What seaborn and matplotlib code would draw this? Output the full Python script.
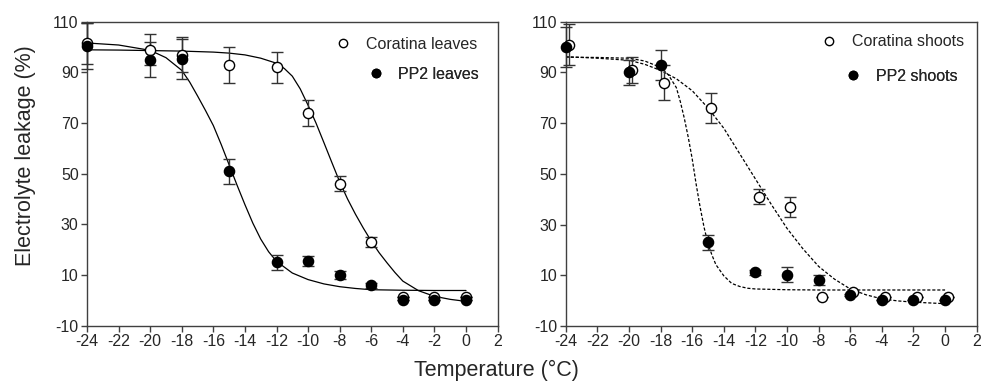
import matplotlib
matplotlib.use('Agg')
import matplotlib.pyplot as plt
from matplotlib.lines import Line2D
import seaborn as sns

# measured temperatures (deg C)
temps = [-24, -20, -18, -15, -12, -10, -8, -6, -4, -2, 0]
temps_cor_shoots = [-23.8, -19.8, -17.8, -14.8, -11.8, -9.8, -7.8, -5.8, -3.8, -1.8, 0.2]

# leaves: mean leakage and error
cor_leaves = [101.5, 99, 97, 93, 92, 74, 46, 23, 1.4, 1.4, 1.4]
cor_leaves_err = [8, 6, 7, 7, 6, 5, 3, 2, 0, 0, 0]
pp2_leaves = [100.3, 95, 95.3, 51, 15, 15.7, 10, 5.9, 0.1, 0.1, 0.1]
pp2_leaves_err = [9, 7, 8, 5, 3, 2, 1.5, 1, 0, 0, 0]

# shoots: mean leakage and error
cor_shoots = [101, 91, 86, 76, 41, 37, 1.3, 3.3, 1.3, 1.3, 1.3]
cor_shoots_err = [8, 5, 7, 6, 3, 4, 0, 0, 0, 0, 0]
pp2_shoots = [100, 90, 93, 23, 11.2, 10.3, 8.3, 2.2, 0.3, 0.3, 0.3]
pp2_shoots_err = [8, 5, 6, 3, 1, 3, 2, 0.5, 0, 0, 0]

# fitted curves
fit_cl_x = [-24, -22, -20, -18, -16, -15, -14, -13, -12, -11.5, -11, -10.5, -10, -9.5, -9,
            -8.5, -8, -7.5, -7, -6.5, -6, -5.5, -5, -4.5, -4, -3, -2, -1, 0]
fit_cl_y = [98.9, 98.8, 98.6, 98.4, 98.0, 97.6, 96.9, 95.6, 93.6, 91.5, 88.5, 83.5, 77.0, 70.0, 62.3,
            54.5, 46.8, 40.0, 34.0, 28.5, 23.4, 18.8, 14.8, 11.0, 7.6, 3.8, 1.6, 0.4, -0.4]
fit_pl_x = [-24, -22, -20, -19, -18, -17.5, -17, -16.5, -16, -15.5, -15, -14.5, -14, -13.5,
            -13, -12.5, -12, -11, -10, -9, -8, -7, -6, -4, -2, 0]
fit_pl_y = [101.6, 100.8, 98.7, 95.8, 90.8, 86.2, 80.7, 75.0, 69.0, 61.5, 53.5, 45.5, 37.8, 30.5,
            24.2, 19.2, 15.4, 10.8, 8.2, 6.5, 5.4, 4.7, 4.2, 4.0, 3.9, 3.9]
fit_cs_x = [-24, -22, -20, -19, -18, -17, -16, -15, -14, -13, -12, -11, -10, -9, -8, -7, -6,
            -5, -4, -3, -2, -1, 0]
fit_cs_y = [96.2, 95.6, 94.8, 93.2, 90.8, 87.5, 82.8, 76.0, 68.0, 58.0, 48.0, 38.0, 28.5, 20.5,
            13.5, 8.5, 4.6, 2.3, 0.7, -0.1, -0.6, -0.9, -1.2]
fit_ps_x = [-24, -22, -20, -19, -18, -17.5, -17, -16.75, -16.5, -16.25, -16, -15.75, -15.5,
            -15.25, -15, -14.75, -14.5, -14, -13.5, -13, -12.5, -12, -10, -8, -6, -4, -2, 0]
fit_ps_y = [96.0, 95.9, 95.6, 94.5, 92.0, 89.0, 84.0, 78.5, 72.0, 64.5, 56.0, 46.0, 37.0,
            29.0, 22.5, 18.0, 14.2, 9.8, 6.8, 5.6, 4.9, 4.6, 4.3, 4.2, 4.2, 4.2, 4.2, 4.2]

sns.set_style('ticks')
plt.rcParams['font.family'] = ['Liberation Sans', 'DejaVu Sans']
plt.rcParams['axes.unicode_minus'] = False

fig = plt.figure(figsize=(9.93, 3.92), dpi=100)
W, H = 993, 392
ax1 = fig.add_axes([87 / W, 1 - 325.7 / H, (497.6 - 87) / W, (325.7 - 21.7) / H])
ax2 = fig.add_axes([565.7 / W, 1 - 326 / H, (976.7 - 565.7) / W, (326 - 21.7) / H])

spine_col = '#404040'


def panel(ax, x_open, y_open, e_open, x_fill, y_fill, e_fill, fits, ls):
    # fitted curves
    for fx, fy in fits:
        sns.lineplot(x=fx, y=fy, ax=ax, color='black', lw=0.9, linestyle=ls,
                     sort=False, estimator=None, zorder=2)
    # error bars
    for xs, ys, es in [(x_open, y_open, e_open), (x_fill, y_fill, e_fill)]:
        eb = ax.errorbar(xs, ys, yerr=es, fmt='none', ecolor='#333333',
                         elinewidth=1, capsize=4, capthick=1, zorder=3)
        for art in eb.lines[1] + eb.lines[2]:
            art.set_clip_on(False)
    # points: open first, filled on top
    sns.scatterplot(x=x_open, y=y_open, ax=ax, marker='o', s=54, facecolor='white',
                    edgecolor='black', linewidth=1, zorder=4, clip_on=False)
    sns.scatterplot(x=x_fill, y=y_fill, ax=ax, marker='o', s=54, color='black',
                    edgecolor='black', linewidth=1, zorder=5, clip_on=False)

    ax.set_xlim(-24, 2)
    ax.set_ylim(-10, 110)
    ax.set_xticks(range(-24, 3, 2))
    ax.set_yticks(range(-10, 111, 20))
    ax.tick_params(direction='out', length=4, width=1, color=spine_col,
                   labelsize=11.5, pad=2)
    for s in ax.spines.values():
        s.set_color(spine_col)
        s.set_linewidth(1)
        s.set_visible(True)
    ax.set_xlabel('')
    ax.set_ylabel('')


panel(ax1, temps, cor_leaves, cor_leaves_err, temps, pp2_leaves, pp2_leaves_err,
      [(fit_cl_x, fit_cl_y), (fit_pl_x, fit_pl_y)], '-')
panel(ax2, temps_cor_shoots, cor_shoots, cor_shoots_err, temps, pp2_shoots, pp2_shoots_err,
      [(fit_cs_x, fit_cs_y), (fit_ps_x, fit_ps_y)], (0, (2.5, 1.5)))


def legend_entry(ax, label, filled, mx, my):
    h = Line2D([], [], marker='o', linestyle='none', markersize=6,
               markerfacecolor='black' if filled else 'white',
               markeredgecolor='black', markeredgewidth=1)
    fs = 11.5
    half = fs * 100 / 72 * 0.5
    leg = ax.legend(handles=[h], labels=[label], loc='center left',
                    bbox_to_anchor=((mx - half) / W, 1 - my / H),
                    bbox_transform=fig.transFigure, frameon=False, fontsize=fs,
                    borderpad=0, borderaxespad=0, handlelength=1.0,
                    handletextpad=0.9)
    ax.add_artist(leg)


legend_entry(ax1, 'Coratina leaves', False, 343.3, 44.5)
legend_entry(ax1, 'PP2 leaves', True, 376, 74.5)
legend_entry(ax2, 'Coratina shoots', False, 829.3, 42)
legend_entry(ax2, 'PP2 shoots', True, 853.3, 76.5)

fig.text(26 / W, 1 - 156 / H, 'Electrolyte leakage (%)', rotation=90,
         ha='center', va='center', fontsize=15.5)
fig.text(496 / W, 1 - 370 / H, 'Temperature (°C)', ha='center', va='center',
         fontsize=15.5)

fig.savefig('out.png', dpi=100)
